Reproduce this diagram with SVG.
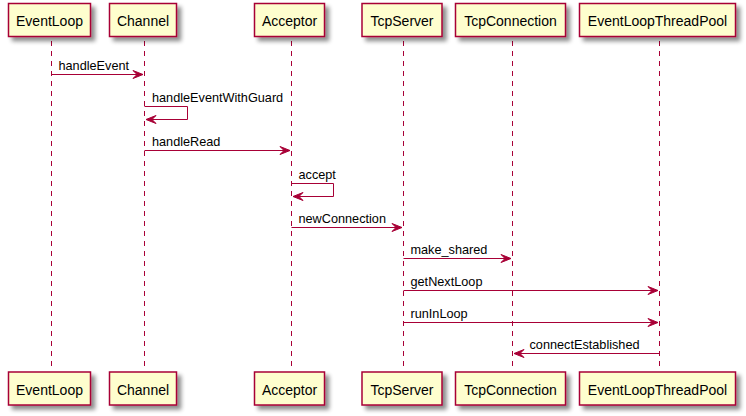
<svg xmlns="http://www.w3.org/2000/svg" width="746" height="416" viewBox="0 0 746 416">
<defs>
<filter id="sh" x="-10%" y="-20%" width="130%" height="160%">
<feGaussianBlur in="SourceAlpha" stdDeviation="2"/>
<feOffset dx="4" dy="4" result="b"/>
<feComponentTransfer><feFuncA type="linear" slope="0.45"/></feComponentTransfer>
<feMerge><feMergeNode/><feMergeNode in="SourceGraphic"/></feMerge>
</filter>
</defs>
<style>
.box{fill:#FEFECE;stroke:#A80036;stroke-width:1.5;filter:url(#sh)}
.pt{font-family:"Liberation Sans",Arial,sans-serif;font-size:14px;fill:#000;text-anchor:middle}
.life{stroke:#A80036;stroke-width:1;stroke-dasharray:5,5;fill:none}
.msg{stroke:#A80036;stroke-width:1;fill:none}
.ah{fill:#A80036;stroke:#A80036;stroke-width:1}
.ml{font-family:"Liberation Sans",Arial,sans-serif;font-size:12.7px;fill:#000}
</style>
<rect width="746" height="416" fill="#FFFFFF"/>
<g id="lifelines">
<line class="life" x1="51.5" y1="41" x2="51.5" y2="367"/>
<line class="life" x1="144.5" y1="41" x2="144.5" y2="367"/>
<line class="life" x1="291.5" y1="41" x2="291.5" y2="367"/>
<line class="life" x1="403.5" y1="41" x2="403.5" y2="367"/>
<line class="life" x1="512.5" y1="41" x2="512.5" y2="367"/>
<line class="life" x1="659.5" y1="41" x2="659.5" y2="367"/>
</g>
<g id="EventLoop">
<rect class="box" x="8.5" y="3.5" width="82" height="33"/>
<text class="pt" x="49.5" y="26">EventLoop</text>
<rect class="box" x="8.5" y="372" width="82" height="33"/>
<text class="pt" x="49.5" y="394.5">EventLoop</text>
</g>
<g id="Channel">
<rect class="box" x="109.5" y="3.5" width="67" height="33"/>
<text class="pt" x="143" y="26">Channel</text>
<rect class="box" x="109.5" y="372" width="67" height="33"/>
<text class="pt" x="143" y="394.5">Channel</text>
</g>
<g id="Acceptor">
<rect class="box" x="254.5" y="3.5" width="70" height="33"/>
<text class="pt" x="289.5" y="26">Acceptor</text>
<rect class="box" x="254.5" y="372" width="70" height="33"/>
<text class="pt" x="289.5" y="394.5">Acceptor</text>
</g>
<g id="TcpServer">
<rect class="box" x="362" y="3.5" width="80" height="33"/>
<text class="pt" x="402" y="26">TcpServer</text>
<rect class="box" x="362" y="372" width="80" height="33"/>
<text class="pt" x="402" y="394.5">TcpServer</text>
</g>
<g id="TcpConnection">
<rect class="box" x="455.5" y="3.5" width="110" height="33"/>
<text class="pt" x="510.5" y="26">TcpConnection</text>
<rect class="box" x="455.5" y="372" width="110" height="33"/>
<text class="pt" x="510.5" y="394.5">TcpConnection</text>
</g>
<g id="EventLoopThreadPool">
<rect class="box" x="579.5" y="3.5" width="156" height="33"/>
<text class="pt" x="657.5" y="26">EventLoopThreadPool</text>
<rect class="box" x="579.5" y="372" width="156" height="33"/>
<text class="pt" x="657.5" y="394.5">EventLoopThreadPool</text>
</g>
<g id="connectors">
<line class="msg" x1="51.5" y1="74.5" x2="143" y2="74.5"/>
<polygon class="ah" points="133,70.5 143,74.5 133,78.5 137,74.5"/>
<text class="ml" x="58.5" y="69.5">handleEvent</text>

<polyline class="msg" points="144.5,106.5 187.5,106.5 187.5,119.5 146,119.5"/>
<polygon class="ah" points="156,115.5 146,119.5 156,123.5 152,119.5"/>
<text class="ml" x="152" y="101.5">handleEventWithGuard</text>

<line class="msg" x1="144.5" y1="150.5" x2="290" y2="150.5"/>
<polygon class="ah" points="280,146.5 290,150.5 280,154.5 284,150.5"/>
<text class="ml" x="152" y="145.5">handleRead</text>

<polyline class="msg" points="291.5,183.5 333.5,183.5 333.5,196.5 293,196.5"/>
<polygon class="ah" points="303,192.5 293,196.5 303,200.5 299,196.5"/>
<text class="ml" x="298.5" y="178.5">accept</text>

<line class="msg" x1="291.5" y1="227.5" x2="402" y2="227.5"/>
<polygon class="ah" points="392,223.5 402,227.5 392,231.5 396,227.5"/>
<text class="ml" x="298.5" y="222.5">newConnection</text>

<line class="msg" x1="403.5" y1="258.5" x2="511" y2="258.5"/>
<polygon class="ah" points="501,254.5 511,258.5 501,262.5 505,258.5"/>
<text class="ml" x="410.5" y="253.5">make_shared</text>

<line class="msg" x1="403.5" y1="290.5" x2="658" y2="290.5"/>
<polygon class="ah" points="648,286.5 658,290.5 648,294.5 652,290.5"/>
<text class="ml" x="410.5" y="285.5">getNextLoop</text>

<line class="msg" x1="403.5" y1="322.5" x2="658" y2="322.5"/>
<polygon class="ah" points="648,318.5 658,322.5 648,326.5 652,322.5"/>
<text class="ml" x="410.5" y="317.5">runInLoop</text>

<line class="msg" x1="514" y1="353.5" x2="659.5" y2="353.5"/>
<polygon class="ah" points="524,349.5 514,353.5 524,357.5 520,353.5"/>
<text class="ml" x="529.5" y="348.5">connectEstablished</text>
</g>
</svg>
